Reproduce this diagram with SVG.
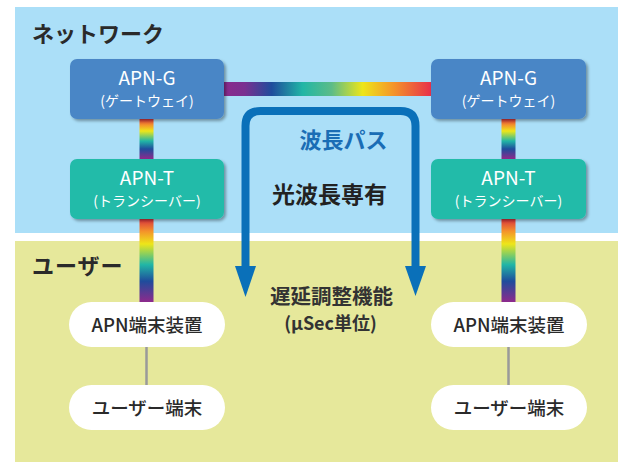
<svg xmlns="http://www.w3.org/2000/svg" width="618" height="462" viewBox="0 0 618 462">
  <defs>
    <linearGradient id="rainH" x1="0" y1="0" x2="1" y2="0">
      <stop offset="0" stop-color="#8a2a8c"/>
      <stop offset="0.1" stop-color="#7a3090"/>
      <stop offset="0.23" stop-color="#1f4c9c"/>
      <stop offset="0.38" stop-color="#21b6a6"/>
      <stop offset="0.52" stop-color="#5cbc88"/>
      <stop offset="0.67" stop-color="#eee619"/>
      <stop offset="0.82" stop-color="#f4942a"/>
      <stop offset="1" stop-color="#e8304a"/>
    </linearGradient>
    <linearGradient id="rainV" x1="0" y1="0" x2="0" y2="1">
      <stop offset="0" stop-color="#d9323e"/>
      <stop offset="0.15" stop-color="#f4942a"/>
      <stop offset="0.3" stop-color="#eee619"/>
      <stop offset="0.55" stop-color="#21b6a6"/>
      <stop offset="0.75" stop-color="#1f4c9c"/>
      <stop offset="1" stop-color="#8e2a8c"/>
    </linearGradient>
    <filter id="shadow" x="-10%" y="-10%" width="130%" height="140%">
      <feDropShadow dx="2" dy="2" stdDeviation="1.5" flood-color="#000" flood-opacity="0.35"/>
    </filter>
    <style>
      text { font-family: "Noto Sans CJK JP", "Noto Sans", sans-serif; }
      .title { font-size: 22px; font-weight: bold; fill: #2a2a2a; }
      .nodeG { fill: #4a86c6; }
      .nodeT { fill: #21bba9; }
      .main { font-size: 19px; fill: #ffffff; text-anchor: middle; }
      .sub { font-size: 14px; fill: #ffffff; text-anchor: middle; }
      .pill { fill: #ffffff; }
      .pillText { font-size: 18.5px; fill: #2a2a2a; text-anchor: middle; font-weight: 500; }
      .gray { stroke: #9a9a9a; stroke-width: 2.5; }
      .blue { stroke: #0a70b9; stroke-width: 8; fill: none; }
      .head { fill: #0a70b9; }
    </style>
  </defs>

  <!-- backgrounds -->
  <rect x="15" y="7" width="603" height="226" fill="#abdff8"/>
  <rect x="15" y="241" width="603" height="221" fill="#e6e89b"/>
  <text class="title" x="32" y="42">ネットワーク</text>
  <text class="title" x="32" y="274" letter-spacing="1">ユーザー</text>

  <!-- connectors -->
  <g id="connectors">
    <rect x="224" y="82" width="207" height="14" fill="url(#rainH)"/>
    <rect x="139.5" y="119" width="14" height="40" fill="url(#rainV)"/>
    <rect x="139.5" y="219" width="14" height="83" fill="url(#rainV)"/>
    <rect x="501.5" y="119" width="14" height="40" fill="url(#rainV)"/>
    <rect x="501.5" y="219" width="14" height="83" fill="url(#rainV)"/>
    <line class="gray" x1="146.5" y1="347" x2="146.5" y2="385"/>
    <line class="gray" x1="508.5" y1="347" x2="508.5" y2="385"/>
    <path class="blue" d="M245.5,268 L245.5,126 Q245.5,111 260.5,111 L400.5,111 Q415.5,111 415.5,126 L415.5,268"/>
    <polygon class="head" points="235,266 256,266 245.5,297"/>
    <polygon class="head" points="405,266 426,266 415.5,296"/>
  </g>

  <!-- labels in middle -->
  <g id="labels">
    <text x="343.5" y="148" font-size="22" font-weight="bold" fill="#1a6db5" text-anchor="middle">波長パス</text>
    <text x="329.5" y="203" font-size="23" font-weight="bold" fill="#222" text-anchor="middle">光波長専有</text>
    <text x="331.5" y="304" font-size="20.5" font-weight="bold" fill="#333" text-anchor="middle">遅延調整機能</text>
    <text x="330.5" y="330" font-size="18" font-weight="bold" fill="#333" text-anchor="middle">(μSec単位)</text>
  </g>

  <!-- nodes -->
  <g id="apn-g-left">
    <rect class="nodeG" x="70" y="59" width="154" height="60" rx="7" filter="url(#shadow)"/>
    <text class="main" x="147" y="85">APN-G</text>
    <text class="sub" x="147" y="106">(ゲートウェイ)</text>
  </g>
  <g id="apn-g-right">
    <rect class="nodeG" x="431" y="59" width="155" height="60" rx="7" filter="url(#shadow)"/>
    <text class="main" x="508.5" y="85">APN-G</text>
    <text class="sub" x="508.5" y="106">(ゲートウェイ)</text>
  </g>
  <g id="apn-t-left">
    <rect class="nodeT" x="70" y="159" width="154" height="60" rx="7" filter="url(#shadow)"/>
    <text class="main" x="147" y="185">APN-T</text>
    <text class="sub" x="147" y="206">(トランシーバー)</text>
  </g>
  <g id="apn-t-right">
    <rect class="nodeT" x="431" y="159" width="155" height="60" rx="7" filter="url(#shadow)"/>
    <text class="main" x="508.5" y="185">APN-T</text>
    <text class="sub" x="508.5" y="206">(トランシーバー)</text>
  </g>
  <g id="apn-device-left">
    <rect class="pill" x="69" y="302" width="156" height="45" rx="22.5"/>
    <text class="pillText" x="147" y="332">APN端末装置</text>
  </g>
  <g id="apn-device-right">
    <rect class="pill" x="431" y="302" width="156" height="45" rx="22.5"/>
    <text class="pillText" x="509" y="332">APN端末装置</text>
  </g>
  <g id="user-terminal-left">
    <rect class="pill" x="69" y="385" width="156" height="45" rx="22.5"/>
    <text class="pillText" x="147" y="415">ユーザー端末</text>
  </g>
  <g id="user-terminal-right">
    <rect class="pill" x="431" y="385" width="156" height="45" rx="22.5"/>
    <text class="pillText" x="509" y="415">ユーザー端末</text>
  </g>
</svg>
